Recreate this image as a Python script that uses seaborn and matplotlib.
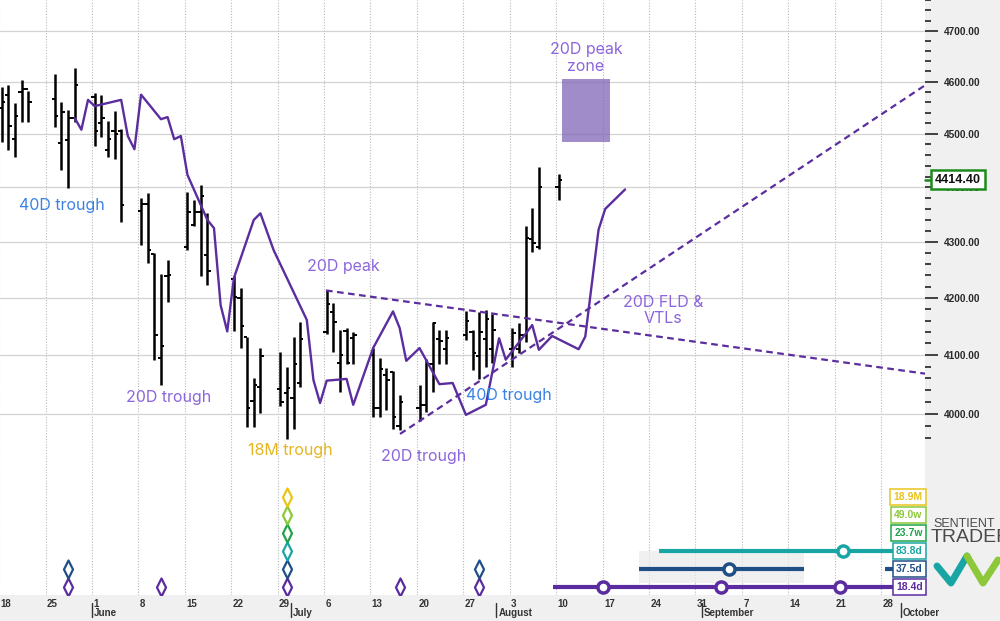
import numpy as np
import pandas as pd
import seaborn as sns
import matplotlib.pyplot as plt
import matplotlib.dates as mdates
from matplotlib.ticker import FixedLocator, NullFormatter, FuncFormatter
from matplotlib.path import Path
from matplotlib.lines import Line2D
from matplotlib.transforms import blended_transform_factory

# daily OHLC bars
bar_dates = ['2020-05-18', '2020-05-19', '2020-05-20', '2020-05-21', '2020-05-22',
             '2020-05-26', '2020-05-27', '2020-05-28', '2020-05-29',
             '2020-06-01', '2020-06-02', '2020-06-03', '2020-06-04', '2020-06-05',
             '2020-06-08', '2020-06-09', '2020-06-10', '2020-06-11', '2020-06-12',
             '2020-06-15', '2020-06-16', '2020-06-17', '2020-06-18',
             '2020-06-22', '2020-06-23', '2020-06-24', '2020-06-25', '2020-06-26',
             '2020-06-29', '2020-06-30', '2020-07-01', '2020-07-02',
             '2020-07-06', '2020-07-07', '2020-07-08', '2020-07-09', '2020-07-10',
             '2020-07-13', '2020-07-14', '2020-07-15', '2020-07-16', '2020-07-17',
             '2020-07-20', '2020-07-21', '2020-07-22', '2020-07-23', '2020-07-24',
             '2020-07-27', '2020-07-28', '2020-07-29', '2020-07-30', '2020-07-31',
             '2020-08-03', '2020-08-04', '2020-08-05', '2020-08-06', '2020-08-07',
             '2020-08-10']
bar_high = [4590, 4593, 4558, 4604, 4583, 4614, 4561, 4545, 4627,
            4578, 4575, 4524, 4543, 4510, 4380, 4389, 4280, 4242, 4268,
            4392, 4376, 4404, 4353, 4238, 4218, 4132, 4061, 4112,
            4105, 4080, 4132, 4158, 4213, 4191, 4144, 4147, 4140,
            4112, 4095, 4077, 4073, 4031, 4049, 4094, 4158, 4144, 4144,
            4176, 4144, 4175, 4178, 4171, 4147, 4156, 4329, 4362, 4437,
            4425]
bar_low = [4485, 4470, 4457, 4523, 4523, 4514, 4432, 4398, 4523,
           4477, 4494, 4456, 4452, 4336, 4294, 4262, 4092, 4049, 4193,
           4285, 4328, 4238, 4223, 4141, 4112, 3978, 3978, 4001,
           4013, 3957, 3975, 4046, 4137, 4106, 4037, 4084, 4084,
           3995, 3995, 4006, 3975, 3972, 3988, 4003, 4036, 4084, 4085,
           4126, 4074, 4058, 4080, 4087, 4079, 4103, 4123, 4282, 4288,
           4376]
bar_open = [4550, 4575, 4490, 4580, 4585, 4566, 4483, 4488, 4530,
            4570, 4520, 4470, 4505, 4505, 4356, 4370, 4278, 4095, 4238,
            4290, 4331, 4354, 4276, 4233, 4200, 4132, 4021, 4046,
            4041, 4035, 4027, 4052, 4140, 4175, 4087, 4141, 4130,
            4100, 4009, 4066, 4070, 3980, 4009, 4015, 4084, 4127, 4111,
            4135, 4140, 4099, 4127, 4110, 4111, 4110, 4135, 4305, 4290,
            4401]
bar_close = [4560, 4515, 4535, 4585, 4560, 4535, 4541, 4530, 4593,
             4505, 4530, 4490, 4500, 4367, 4370, 4286, 4135, 4116, 4240,
             4354, 4354, 4383, 4248, 4202, 4151, 4010, 4049, 4099,
             4020, 4043, 4085, 4128, 4189, 4158, 4100, 4087, 4135,
             4009, 4076, 4057, 3995, 4020, 4014, 4084, 4155, 4125, 4129,
             4160, 4103, 4140, 4163, 4143, 4138, 4134, 4307, 4298, 4401,
             4414.40]

# 20D FLD line
fld_dates = ['2020-05-29', '2020-05-30', '2020-05-31', '2020-06-01', '2020-06-05',
             '2020-06-06', '2020-06-07', '2020-06-08', '2020-06-11', '2020-06-12',
             '2020-06-13', '2020-06-14', '2020-06-15', '2020-06-18', '2020-06-19',
             '2020-06-20', '2020-06-21', '2020-06-22', '2020-06-25', '2020-06-26',
             '2020-06-28', '2020-07-03', '2020-07-04', '2020-07-05', '2020-07-06',
             '2020-07-09', '2020-07-10', '2020-07-13', '2020-07-16', '2020-07-17',
             '2020-07-18', '2020-07-20', '2020-07-23', '2020-07-25', '2020-07-27',
             '2020-07-30', '2020-08-01', '2020-08-02', '2020-08-06', '2020-08-07',
             '2020-08-09', '2020-08-13', '2020-08-14', '2020-08-16', '2020-08-17',
             '2020-08-20']
fld_values = [4530, 4508, 4565, 4553, 4565, 4496, 4471, 4575, 4528, 4532,
              4490, 4496, 4423, 4340, 4325, 4187, 4141, 4235, 4340, 4352,
              4285, 4161, 4057, 4018, 4056, 4059, 4015, 4112, 4176, 4147,
              4090, 4112, 4050, 4052, 3998, 4015, 4129, 4092, 4152, 4109,
              4133, 4110, 4132, 4322, 4360, 4396]

# valid trend lines
vtl_upper_dates = ['2020-07-06 07:00', '2020-10-04 15:20']
vtl_upper_values = [4213, 4068]
vtl_lower_dates = ['2020-07-17 11:00', '2020-10-04 15:20']
vtl_lower_values = [3966, 4593]

zone_dates = ['2020-08-10 20:00', '2020-08-18 03:00']
zone_values = [4485, 4605]
last_price = 4414.40

# cycle panel
cycle_names = ['18.4d', '37.5d', '83.8d', '23.7w', '49.0w', '18.9M']
cycle_colors = ['#5a2ca0', '#1f4f85', '#1aa5a5', '#1fa34a', '#8cc83a', '#e8c41c']
trough_dates = ['2020-05-28', '2020-06-11', '2020-06-30', '2020-07-17', '2020-07-29']
trough_depth = [2, 1, 6, 1, 2]
proj_cycle = [2, 1, 1, 0]
proj_start = ['2020-08-25 12:30', '2020-08-22 12:00', '2020-09-28 14:00', '2020-08-09 13:00']
proj_end = ['2020-10-10 00:00', '2020-09-16 09:00', '2020-10-10 00:00', '2020-10-10 00:00']
mark_cycle = [2, 1, 0, 0, 0]
mark_dates = ['2020-09-22 06:30', '2020-09-05 02:00', '2020-08-17 01:40',
              '2020-09-03 21:00', '2020-09-21 20:00']

annotations = [
    ('40D trough', '2020-05-27 12:30', 4366, '#3b82e6'),
    ('20D trough', '2020-06-12 14:00', 4028, '#8c66dc'),
    ('18M trough', '2020-06-30 21:00', 3939, '#e5b61e'),
    ('20D peak', '2020-07-08 21:00', 4255, '#8c66dc'),
    ('20D trough', '2020-07-21 00:00', 3928, '#8c66dc'),
    ('40D trough', '2020-08-02 22:00', 4030, '#3b82e6'),
    ('20D FLD &\nVTLs', '2020-08-26 02:00', 4177, '#8c66dc'),
    ('20D peak\nzone', '2020-08-14 12:00', 4646, '#8c66dc'),
]

sns.set_style('white')
plt.rcParams['font.family'] = ['Inter', 'DejaVu Sans']

purple = '#5b2d9e'
bar_shift = pd.Timedelta(hours=9.6)
half = pd.Timedelta(hours=12)

fig = plt.figure(figsize=(10, 6.21), dpi=100, facecolor='#f0f0f0')
ax = fig.add_axes([0, 26 / 621, 0.925, 595 / 621])
ax.set_facecolor('white')
for s in ax.spines.values():
    s.set_visible(False)

bars = pd.DataFrame({'date': pd.to_datetime(bar_dates) + bar_shift,
                     'open': bar_open, 'high': bar_high,
                     'low': bar_low, 'close': bar_close})

ax.set_yscale('log')

# grid
mondays = pd.date_range('2020-05-18', '2020-09-28', freq='7D')
for m in mondays:
    ax.axvline(m, color='#b8b8b8', ls=(0, (1, 1.5)), lw=0.8, zorder=0)
for p in range(4000, 4701, 100):
    ax.axhline(p, color='#d2d2d2', lw=0.9, zorder=0)

# bars
ax.vlines(bars['date'], bars['low'], bars['high'], color='black', lw=1.8, zorder=3)
ax.hlines(bars['open'], bars['date'] - half, bars['date'], color='black', lw=1.4, zorder=3)
ax.hlines(bars['close'], bars['date'], bars['date'] + half, color='black', lw=1.4, zorder=3)

# FLD
fld = pd.DataFrame({'date': pd.to_datetime(fld_dates) + bar_shift, 'value': fld_values})
sns.lineplot(data=fld, x='date', y='value', ax=ax, color=purple, lw=1.7,
             estimator=None, sort=False, zorder=4)

ax.plot(pd.to_datetime(vtl_upper_dates), vtl_upper_values, color=purple,
        ls=(0, (3, 2)), lw=1.6, zorder=4)
ax.plot(pd.to_datetime(vtl_lower_dates), vtl_lower_values, color=purple,
        ls=(0, (3, 2)), lw=1.6, zorder=4)

ax.fill_between(pd.to_datetime(zone_dates), zone_values[0], zone_values[1],
                color='#8066b6', alpha=0.75, lw=0, zorder=2)

for txt, d, v, c in annotations:
    ax.text(pd.Timestamp(d), v, txt, color=c, fontsize=11.5, ha='center',
            va='center', linespacing=1.1, zorder=5)

ax.set_ylim(3706, 4761)
ax.set_xlim(pd.Timestamp('2020-05-18 03:00'), pd.Timestamp('2020-10-04 15:20'))
ax.set_xlabel('')
ax.set_ylabel('')

# right price axis
ax.yaxis.tick_right()
ax.yaxis.set_major_locator(FixedLocator(list(range(4000, 4701, 100))))
ax.yaxis.set_minor_locator(FixedLocator([v for v in range(3960, 4761, 20) if v % 100]))
ax.yaxis.set_major_formatter(FuncFormatter(lambda v, p: f'{v:.2f}'))
ax.yaxis.set_minor_formatter(NullFormatter())
ax.tick_params(axis='y', which='major', length=9.5, width=1.3, color='#333333',
               pad=4, labelsize=7.3, labelcolor='#2a2a2a')
ax.tick_params(axis='y', which='minor', length=4, width=1.3, color='#333333')
for lab in ax.get_yticklabels():
    lab.set_fontweight('bold')
    lab.set_family('Liberation Sans')

# bottom date axis
days = pd.date_range('2020-05-18', '2020-10-04', freq='D')
ax.xaxis.set_major_locator(FixedLocator(mdates.date2num(mondays)))
ax.xaxis.set_minor_locator(FixedLocator(mdates.date2num(days)))
ax.xaxis.set_major_formatter(NullFormatter())
ax.xaxis.set_minor_formatter(NullFormatter())
ax.tick_params(axis='x', which='major', length=9, width=1.0, color='#444444')
ax.tick_params(axis='x', which='minor', length=4, width=0.9, color='#444444')

xtr = ax.get_xaxis_transform()
for m in mondays:
    ax.text(m + pd.Timedelta(hours=5), -9 / 595, str(m.day), transform=xtr,
            ha='left', va='center', fontsize=7, fontweight='bold',
            color='#333333', family='Liberation Sans')
month_starts = pd.to_datetime(['2020-06-01', '2020-07-01', '2020-08-01',
                               '2020-09-01', '2020-10-01'])
month_names = ['June', 'July', 'August', 'September', 'October']
for ms_, name in zip(month_starts, month_names):
    ax.plot([ms_, ms_], [-8 / 595, -22 / 595], transform=xtr, clip_on=False,
            color='#333333', lw=1)
    ax.text(ms_ + pd.Timedelta(hours=8), -18 / 595, name, transform=xtr,
            ha='left', va='center', fontsize=7, fontweight='bold',
            color='#333333', family='Liberation Sans')

# last price tag
ytr = blended_transform_factory(ax.transAxes, ax.transData)
ax.plot([1.0, 1 + 9 / 925], [last_price, last_price], transform=ytr,
        color='#1d8a1d', lw=1.8, clip_on=False, zorder=9)
ax.text(1 + 10 / 925, last_price, f'{last_price:.2f}', transform=ytr,
        ha='left', va='center', fontsize=9, fontweight='bold',
        family='Liberation Sans', color='#111111', zorder=10,
        bbox=dict(boxstyle='square,pad=0.3', fc='white', ec='#1d8a1d', lw=1.8))

# cycle panel overlay
ax2 = fig.add_axes([0, 26 / 621, 0.925, 595 / 621], sharex=ax)
ax2.set_ylim(-8 / 18, 587 / 18)
ax2.axis('off')
ax2.patch.set_alpha(0)

diamond = Path([(0, 1), (0.5, 0), (0, -1), (-0.5, 0), (0, 1)],
               [Path.MOVETO, Path.LINETO, Path.LINETO, Path.LINETO, Path.CLOSEPOLY])
for d, n in zip(pd.to_datetime(trough_dates) + bar_shift, trough_depth):
    for lvl in range(n):
        ax2.plot(d, lvl, marker=diamond, ms=13, mfc='none',
                 mec=cycle_colors[lvl], mew=1.6)

ax2.fill_between(pd.to_datetime([proj_start[1], proj_end[1]]), 0.22, 2.0,
                 color='#ebebeb', alpha=0.7, lw=0, zorder=0)
for c, s, e in zip(proj_cycle, proj_start, proj_end):
    ax2.plot(pd.to_datetime([s, e]), [c, c], color=cycle_colors[c], lw=3,
             solid_capstyle='butt', zorder=2)
for c, d in zip(mark_cycle, mark_dates):
    ax2.plot(pd.Timestamp(d), c, 'o', ms=8, mfc='white', mec=cycle_colors[c],
             mew=2.5, zorder=3)

rtr = blended_transform_factory(ax2.transAxes, ax2.transData)
for k, (name, col) in enumerate(zip(cycle_names, cycle_colors)):
    ax2.text(0.9975, k, name, transform=rtr, ha='right', va='center',
             fontsize=7.5, fontweight='bold', color=col, family='Liberation Sans',
             zorder=6, bbox=dict(boxstyle='square,pad=0.3', fc='white', ec=col, lw=1.1))

# logo
fig.text(0.933, 1 - 524 / 621, 'SENTIENT', fontsize=9, color='#4a4a4a',
         family='Liberation Sans', va='center')
fig.text(0.931, 1 - 538 / 621, 'TRADER', fontsize=14, color='#4a4a4a',
         family='Liberation Sans', va='center')
fig.add_artist(Line2D([937 / 1000, 951 / 1000, 967 / 1000],
                      [1 - 566 / 621, 1 - 583 / 621, 1 - 556 / 621],
                      transform=fig.transFigure, color='#1aa5a5', lw=5))
fig.add_artist(Line2D([967 / 1000, 983 / 1000, 998 / 1000],
                      [1 - 556 / 621, 1 - 583 / 621, 1 - 560 / 621],
                      transform=fig.transFigure, color='#8cc83a', lw=5))

fig.savefig('out.png', dpi=100, facecolor=fig.get_facecolor())
